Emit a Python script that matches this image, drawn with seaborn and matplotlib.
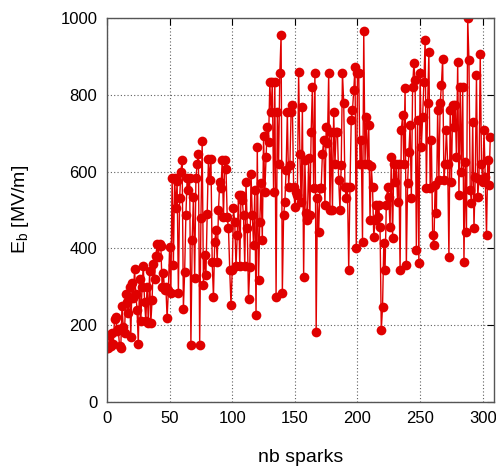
import numpy as np
import pandas as pd
import seaborn as sns
import matplotlib.pyplot as plt

# breakdown field per spark
eb_values = [
    140, 140, 175, 145, 180, 150, 215, 220, 185, 190,
    145, 140, 250, 195, 180, 280, 260, 230, 300, 170,
    310, 270, 345, 280, 240, 150, 320, 210, 300, 355,
    260, 210, 300, 205, 340, 205, 265, 360, 320, 380,
    410, 378, 410, 405, 300, 335, 290, 300, 218, 290,
    404, 283, 583, 356, 583, 504, 575, 283, 530, 600,
    630, 243, 338, 486, 583, 551, 583, 148, 421, 533,
    322, 583, 621, 647, 148, 478, 680, 304, 382, 330,
    490, 632, 577, 632, 364, 273, 416, 447, 364, 499,
    573, 556, 630, 481, 630, 608, 481, 452, 343, 252,
    343, 504, 468, 353, 434, 539, 353, 539, 525, 486,
    353, 573, 452, 267, 351, 595, 486, 408, 551, 226,
    664, 317, 468, 570, 421, 692, 546, 637, 716, 677,
    833, 755, 833, 546, 833, 273, 755, 621, 857, 956,
    283, 486, 520, 603, 755, 560, 617, 755, 775, 560,
    508, 547, 540, 860, 647, 520, 768, 325, 630, 491,
    473, 635, 486, 703, 820, 557, 857, 182, 530, 442,
    557, 557, 647, 682, 512, 716, 674, 857, 500, 703,
    500, 755, 620, 703, 703, 577, 500, 617, 857, 780,
    560, 530, 560, 343, 560, 734, 760, 812, 872, 400,
    857, 856, 621, 682, 416, 968, 621, 742, 621, 721,
    473, 615, 560, 429, 473, 514, 482, 514, 455, 187,
    247, 413, 343, 514, 560, 533, 455, 637, 426, 621,
    573, 621, 520, 621, 343, 708, 747, 621, 817, 356,
    570, 650, 721, 530, 820, 882, 838, 395, 734, 361,
    856, 664, 742, 833, 943, 557, 778, 911, 557, 682,
    434, 408, 565, 491, 760, 577, 778, 825, 895, 577,
    621, 708, 621, 377, 760, 573, 775, 716, 775, 637,
    886, 539, 820, 600, 820, 365, 625, 442, 1000, 890,
    553, 517, 729, 452, 585, 851, 535, 580, 908, 621,
    573, 708, 585, 434, 630, 565, 690,
]
sparks = list(range(len(eb_values)))

x_ticks = [0, 50, 100, 150, 200, 250, 300]
y_ticks = [0, 200, 400, 600, 800, 1000]

sns.set_style('white')
plt.rcParams['font.family'] = ['Liberation Sans', 'DejaVu Sans']
plt.rcParams['mathtext.fontset'] = 'custom'
plt.rcParams['mathtext.rm'] = 'Liberation Sans'
plt.rcParams['mathtext.it'] = 'Liberation Sans:italic'
plt.rcParams['text.color'] = 'black'
plt.rcParams['axes.labelcolor'] = 'black'
plt.rcParams['xtick.color'] = 'black'
plt.rcParams['ytick.color'] = 'black'

df = pd.DataFrame({'nb sparks': sparks, 'Eb': eb_values})

fig = plt.figure(figsize=(4.96, 4.68), dpi=100)
ax = fig.add_axes([0.2157, 0.1417, 0.7803, 0.8193])

sns.lineplot(data=df, x='nb sparks', y='Eb', ax=ax, color='#e00000',
             marker='o', markersize=7, markeredgewidth=0, linewidth=1)

ax.set_xlim(0, 309)
ax.set_ylim(0, 1000)
ax.set_xticks(x_ticks)
ax.set_yticks(y_ticks)
ax.grid(True, color='#606060', linestyle=(0, (1, 2)), linewidth=0.8)
ax.set_axisbelow(True)

for s in ax.spines.values():
    s.set_color('#555555')
    s.set_linewidth(1)

ax.tick_params(direction='in', length=5, width=0.8,
               top=True, right=True, labelsize=12, pad=7)

ax.set_xlabel('nb sparks', fontsize=14, labelpad=16)
ax.set_ylabel(r'E$_\mathrm{b}$ [MV/m]', fontsize=14, labelpad=21)

fig.savefig('out.png', dpi=100)
